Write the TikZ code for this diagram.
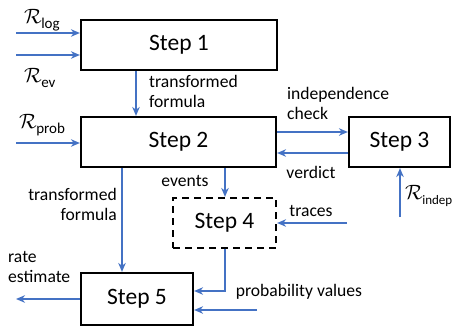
\documentclass[tikz,border=0pt]{standalone}
\usepackage{amsmath}
\usepackage{fontspec}
\setmainfont{Carlito}
\usetikzlibrary{arrows.meta}
\definecolor{arrowblue}{RGB}{68,114,196}
\newcommand\Rsub[2][15]{{\fontsize{21}{21}\selectfont$\mathcal{R}$}\kern-0.5pt\raisebox{-5pt}{\fontsize{#1}{#1}\selectfont #2}}
\begin{document}
\begin{tikzpicture}[x=1pt,y=-1pt,
  stepbox/.style={draw=black,line width=2.2pt,minimum width=#1,minimum height=50pt,inner sep=0pt,font=\fontsize{23.5}{27}\selectfont},
  stepbox/.default=195pt,
  dashbox/.style={stepbox=103pt,dash pattern=on 7pt off 5pt},
  flow/.style={draw=arrowblue,line width=1.4pt,-{Stealth[length=9pt,width=7.5pt]}},
  lbl/.style={font=\fontsize{17.6}{20.5}\selectfont,inner sep=0pt},
  rlbl/.style={inner sep=0pt,anchor=west}]
\useasboundingbox (0,0) rectangle (453,333);
\node[stepbox=196pt] (s1) at (179,45) {Step 1};
\node[stepbox=195pt] (s2) at (178.5,142) {Step 2};
\node[stepbox=101pt] (s3) at (399.5,142) {Step 3};
\node[dashbox] (s4) at (224.5,223) {Step 4};
\node[stepbox=112pt,minimum height=52pt] (s5) at (137,299) {Step 5};
% free ends
\coordinate (rlog) at (16,33);
\coordinate (rev) at (16,55);
\coordinate (rprob) at (16,143);
\coordinate (rind) at (400,217);
\coordinate (tr) at (347,223);
\coordinate (pv) at (257,310);
\coordinate (re) at (16,299);
\coordinate (c45) at (225,291);
% connectors
\draw[flow] (rlog) -- (rlog -| s1.west);
\draw[flow] (rev) -- (rev -| s1.west);
\draw[flow] (rprob) -- (rprob -| s2.west);
\draw[flow] (s1.south -| 136,0) -- (s2.north -| 136,0);
\draw[flow] (s2.east |- 0,132) -- (s3.west |- 0,132);
\draw[flow] (s3.west |- 0,153) -- (s2.east |- 0,153);
\draw[flow] (rind) -- (rind |- s3.south);
\draw[flow] (s2.south -| 225,0) -- (s4.north -| 225,0);
\draw[flow] (s2.south -| 122,0) -- (s5.north -| 122,0);
\draw[flow] (tr) -- (tr -| s4.east);
\draw[flow] (s4.south -| c45) -- (c45) -- (c45 -| s5.east);
\draw[flow] (pv) -- (pv -| s5.east);
\draw[flow] (s5.west |- re) -- (re);
% labels
\node[rlbl] (lrlog) at (24,20) {\Rsub{log}};
\node[rlbl] (lrev) at (24,78) {\Rsub{ev}};
\node[rlbl] (lrprob) at (19,125) {\Rsub{prob}};
\node[rlbl] (lrind) at (405,196) {\Rsub[13]{indep}};
\node[lbl,align=left,anchor=north west] (ltf1) at (149,75) {transformed\\formula};
\node[lbl,align=left,anchor=north west] (lic) at (287,87) {independence\\check};
\node[lbl] (lver) at (311,172) {verdict};
\node[lbl] (lev) at (185,181) {events};
\node[lbl,align=right,anchor=north east] (ltf2) at (117,188) {transformed\\formula};
\node[lbl] (ltr) at (311,211) {traces};
\node[lbl,align=left,anchor=north west] (lre) at (8,251) {rate\\estimate};
\node[lbl] (lpv) at (299,292) {probability values};
\end{tikzpicture}
\end{document}
